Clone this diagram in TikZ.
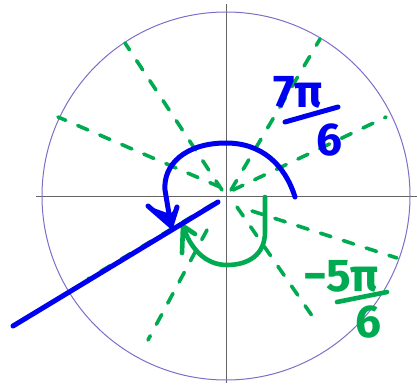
\documentclass[tikz,border=0pt]{standalone}
\usepackage{fontspec}
\setmainfont{Fira Sans}
\definecolor{pen}{RGB}{0,0,240}
\definecolor{grn}{RGB}{0,170,80}
\definecolor{circ}{RGB}{125,110,200}
\definecolor{axis}{RGB}{100,100,100}
\begin{document}
\begin{tikzpicture}[x=1pt,y=-1pt,
  axisline/.style={draw=axis,line width=1pt},
  gdash/.style={draw=grn,line width=3.6pt,line cap=round,dash pattern=on 11pt off 13pt},
  bluestroke/.style={draw=pen,line width=5pt,line cap=round,line join=round},
  greenstroke/.style={draw=grn,line width=4.6pt,line cap=round,line join=round},
  bluelab/.style={text=pen,font=\fontsize{46}{46}\selectfont\bfseries,inner sep=0pt},
  greenlab/.style={text=grn,font=\fontsize{46}{46}\selectfont\bfseries,inner sep=0pt}]
\useasboundingbox (0,0) rectangle (417,385);
% axes and circle
\coordinate (O) at (226,196);
\coordinate (xl) at (36,196);
\coordinate (xr) at (417,196);
\coordinate (yt) at (226,4);
\coordinate (yb) at (226,383);
\draw[axisline] (xl) -- (xr);
\draw[axisline] (yt) -- (yb);
\draw[draw=circ,line width=1pt] (O) circle[radius=184];
% green dashed rays
\coordinate (a1s) at (222,190); \coordinate (a1e) at (125,43);
\coordinate (a2s) at (220,187); \coordinate (a2e) at (58,117);
\coordinate (a3s) at (231,190); \coordinate (a3e) at (320,39);
\coordinate (a4s) at (233,190); \coordinate (a4e) at (386,117);
\coordinate (a5s) at (252,211); \coordinate (a5e) at (397,258);
\coordinate (a6s) at (237,207); \coordinate (a6e) at (317,323);
\coordinate (a7s) at (207,230); \coordinate (a7e) at (148,340);
\coordinate (a8s) at (213,204); \coordinate (a8e) at (88,279);
\draw[gdash] (a1s) -- (a1e);
\draw[gdash] (a2s) -- (a2e);
\draw[gdash] (a3s) -- (a3e);
\draw[gdash] (a4s) -- (a4e);
\draw[gdash] (a5s) -- (a5e);
\draw[gdash] (a6s) -- (a6e);
\draw[gdash] (a7s) -- (a7e);
\draw[gdash] (a8s) -- (a8e);
% green arc with arrow
\coordinate (g0) at (265,197);
\coordinate (g1) at (265,232);
\coordinate (g2) at (227,265);
\coordinate (gtip) at (183,226);
\coordinate (gb1) at (182,253);
\coordinate (gb2) at (195,234);
\draw[greenstroke] (g0) -- (g1) .. controls (265,255) and (248,265) .. (g2)
  .. controls (205,265) and (190,248) .. (gtip);
\draw[greenstroke] (gb1) -- (gtip) -- (gb2);
% blue radius line
\coordinate (bs) at (218,202);
\coordinate (be) at (13,326);
\draw[bluestroke] (bs) -- (be);
% blue arc with arrow
\coordinate (b0) at (295,197);
\coordinate (b1) at (226,143);
\coordinate (b2) at (165,190);
\coordinate (btip) at (171,226);
\coordinate (bb1) at (148,206);
\coordinate (bb2) at (177,207);
\draw[bluestroke] (b0) .. controls (285,165) and (262,143) .. (b1)
  .. controls (185,143) and (163,165) .. (b2) -- (btip);
\fill[pen] (bb1) -- (btip) -- (bb2) -- (170,214) -- cycle;
\draw[bluestroke] (bb1) -- (btip) -- (bb2);
% labels
\node[bluelab] (n7) at (298,92) {7π};
\coordinate (bar1a) at (285,122);
\coordinate (bar1b) at (338,107);
\draw[bluestroke] (bar1a) -- (bar1b);
\node[bluelab] (d7) at (329,140) {6};
\node[greenlab] (n5) at (341,276) {−5π};
\coordinate (bar2a) at (337,302);
\coordinate (bar2b) at (387,292);
\draw[greenstroke] (bar2a) -- (bar2b);
\node[greenlab] (d5) at (368,322) {6};
\end{tikzpicture}
\end{document}
